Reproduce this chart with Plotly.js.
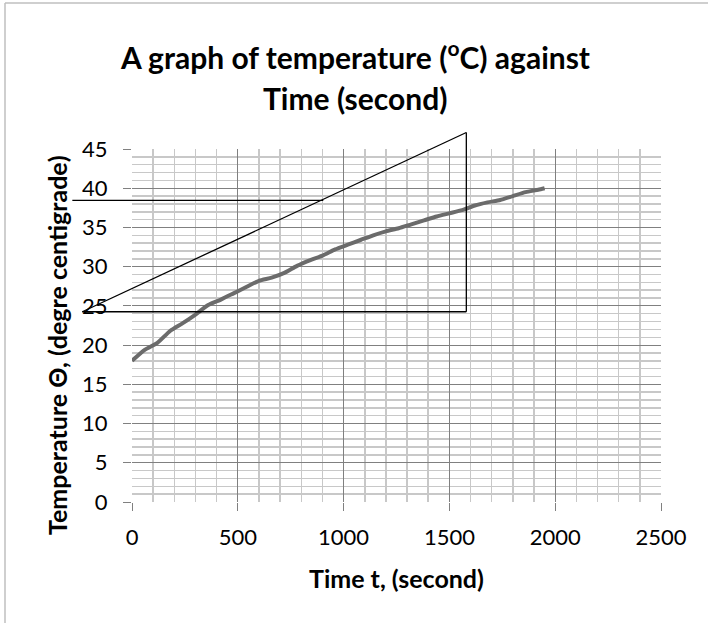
<!DOCTYPE html>
<html>
<head>
<meta charset="utf-8">
<script src="https://cdn.plot.ly/plotly-3.0.1.min.js"></script>
<style>html,body{margin:0;padding:0;background:#fff;}#chart{width:708px;height:623px;}</style>
</head>
<body>
<div id="chart"></div>
<script>
// Time (s) and temperature (°C)
var timeSec = [0, 60, 120, 180, 240, 300, 360, 420, 480, 540, 600, 660, 720, 780, 840, 900, 960, 1020, 1080, 1140, 1200, 1260, 1320, 1380, 1440, 1500, 1560, 1620, 1680, 1740, 1800, 1860, 1920, 1950];
var tempC = [18.0, 19.4, 20.3, 21.8, 22.8, 23.9, 25.1, 25.8, 26.6, 27.4, 28.2, 28.6, 29.2, 30.1, 30.8, 31.4, 32.2, 32.8, 33.4, 34.0, 34.5, 34.9, 35.4, 35.9, 36.4, 36.8, 37.2, 37.8, 38.2, 38.5, 39.0, 39.5, 39.8, 40.0];

// Hand-drawn tangent construction (data units)
var tangentX = [-235, 1580];
var tangentY = [24.25, 47.1];
var refLineTopY = 38.46;
var refLineTopX = [-282, 904];
var baseLineY = 24.25;

var titleLines = ['A graph of temperature (<sup>o</sup>C) against', 'Time (second)'];
var xTitle = 'Time t, (second)';
var yTitle = 'Temperature Θ, (degre centigrade)';

var xRange = [0, 2500];
var yRange = [0, 45];

// plot-area geometry in pixels
var W = 529, H = 353, L = 132, B = 502;
function px(x) { return (x - xRange[0]) / (xRange[1] - xRange[0]); }
function py(y) { return (y - yRange[0]) / (yRange[1] - yRange[0]); }
function pxX(p) { return (p - L) / W; }
function pxY(p) { return (B - p) / H; }

var font = 'Lato, "Open Sans", sans-serif';

var shapes = [
  {type:'line', xref:'paper', yref:'paper', x0:px(tangentX[0]), y0:py(tangentY[0]), x1:px(tangentX[1]), y1:py(tangentY[1]), line:{color:'#000', width:1.3}},
  {type:'line', xref:'paper', yref:'paper', x0:px(tangentX[1]), y0:py(tangentY[1]), x1:px(tangentX[1]), y1:py(baseLineY), line:{color:'#000', width:1.3}},
  {type:'line', xref:'paper', yref:'paper', x0:px(tangentX[0]), y0:py(baseLineY), x1:px(tangentX[1]), y1:py(baseLineY), line:{color:'#000', width:1.3}},
  {type:'line', xref:'paper', yref:'paper', x0:px(refLineTopX[0]), y0:py(refLineTopY), x1:px(refLineTopX[1]), y1:py(refLineTopY), line:{color:'#000', width:1.3}},
  // outer chart border (left and top visible)
  {type:'line', xref:'paper', yref:'paper', x0:pxX(5), y0:pxY(3), x1:pxX(720), y1:pxY(3), line:{color:'#bfbfbf', width:1.5}},
  {type:'line', xref:'paper', yref:'paper', x0:pxX(5), y0:pxY(3), x1:pxX(5), y1:pxY(640), line:{color:'#bfbfbf', width:1.5}}
];

var annotations = [
  {text:'<b>' + titleLines[0] + '</b>', xref:'paper', yref:'paper', x:pxX(355), y:pxY(55), xanchor:'center', yanchor:'middle', showarrow:false, font:{family:font, size:30, color:'#000'}},
  {text:'<b>' + titleLines[1] + '</b>', xref:'paper', yref:'paper', x:pxX(355), y:pxY(98), xanchor:'center', yanchor:'middle', showarrow:false, font:{family:font, size:30, color:'#000'}},
  {text:'<b>' + xTitle + '</b>', xref:'paper', yref:'paper', x:pxX(396), y:pxY(578), xanchor:'center', yanchor:'middle', showarrow:false, font:{family:font, size:25, color:'#000'}},
  {text:'<b>' + yTitle + '</b>', xref:'paper', yref:'paper', x:pxX(57), y:pxY(345), xanchor:'center', yanchor:'middle', textangle:-90, showarrow:false, font:{family:font, size:25, color:'#000'}}
];

var trace = {
  x: timeSec, y: tempC, type:'scatter', mode:'lines',
  line:{color:'#6b6b6b', width:4, shape:'spline', smoothing:0.6},
  hoverinfo:'skip', showlegend:false
};

var layout = {
  width:708, height:623,
  margin:{l:L, r:708 - L - W, t:B - H, b:623 - B},
  paper_bgcolor:'#fff', plot_bgcolor:'#fff',
  xaxis:{
    range:xRange, dtick:500, tick0:0, showgrid:true, gridcolor:'#808080', gridwidth:1,
    minor:{dtick:100, showgrid:true, gridcolor:'#c8c8c8', gridwidth:1.5},
    ticks:'outside', ticklen:8, tickcolor:'#808080', tickwidth:1,
    showline:false, zeroline:false,
    tickfont:{family:font, size:22, color:'#000'},
    ticklabelstandoff:8
  },
  yaxis:{
    range:yRange, dtick:5, tick0:0, showgrid:true, gridcolor:'#808080', gridwidth:1,
    minor:{dtick:1, showgrid:true, gridcolor:'#c8c8c8', gridwidth:1.5},
    ticks:'outside', ticklen:8, tickcolor:'#808080', tickwidth:1,
    showline:false, zeroline:false,
    tickfont:{family:font, size:22, color:'#000'},
    ticklabelstandoff:11
  },
  shapes:shapes,
  annotations:annotations
};

Plotly.newPlot('chart', [trace], layout, {staticPlot:true, displayModeBar:false});
</script>
</body>
</html>
